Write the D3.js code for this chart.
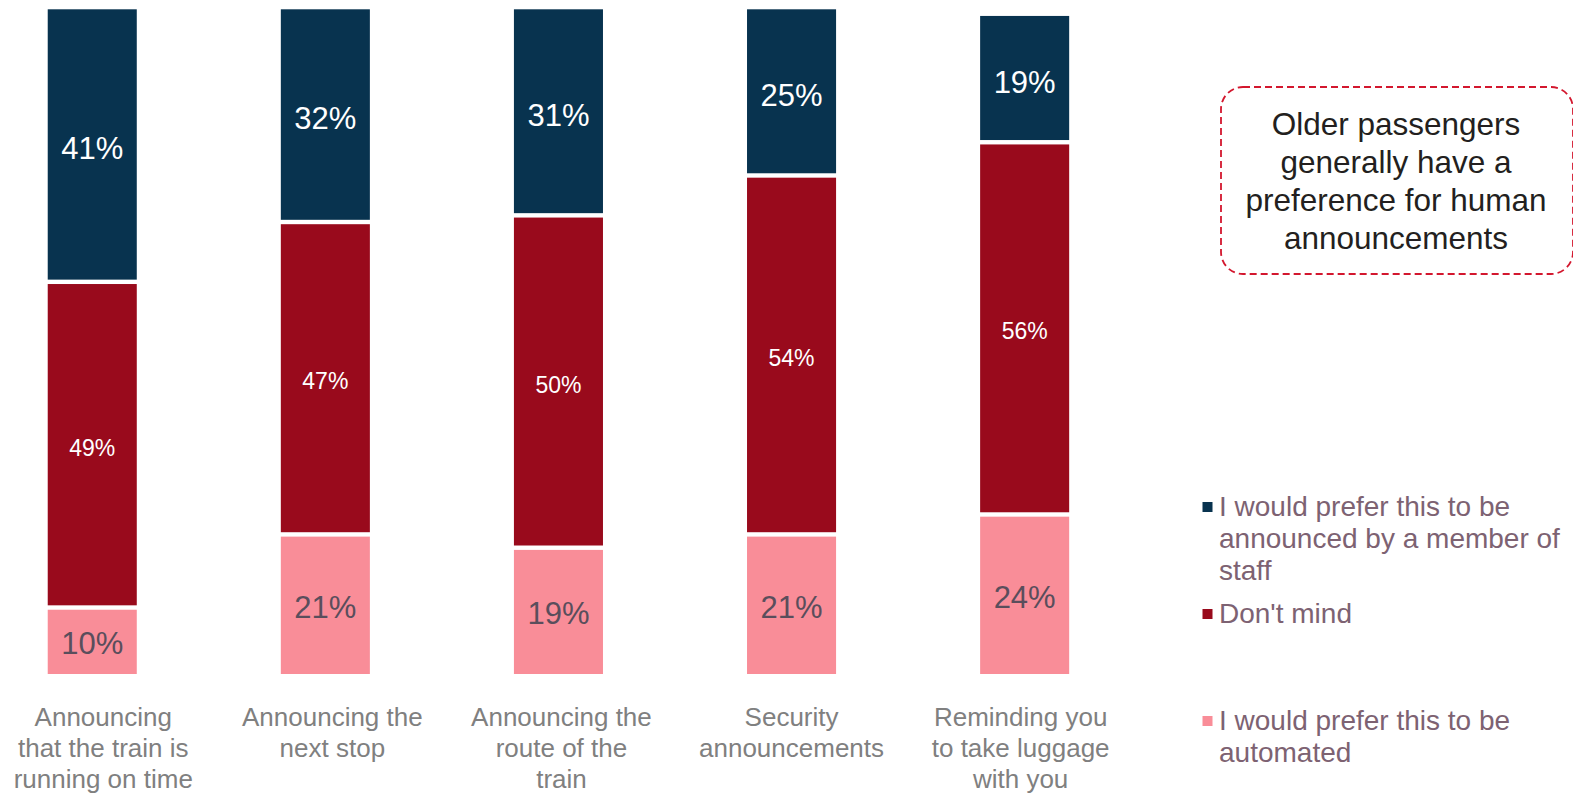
<!DOCTYPE html>
<html>
<head>
<meta charset="utf-8">
<script src="https://cdn.jsdelivr.net/npm/d3@7"></script>
<style>
  html, body { margin: 0; padding: 0; background: #fff; }
  svg { display: block; font-family: "Liberation Sans", Arial, sans-serif; }
</style>
</head>
<body>
<svg id="chart" width="1573" height="793"></svg>
<script>
// ---- data ----
const categories = [
  "Announcing that the train is running on time",
  "Announcing the next stop",
  "Announcing the route of the train",
  "Security announcements",
  "Reminding you to take luggage with you"
];
const categoryLines = [
  ["Announcing", "that the train is", "running on time"],
  ["Announcing the", "next stop"],
  ["Announcing the", "route of the", "train"],
  ["Security", "announcements"],
  ["Reminding you", "to take luggage", "with you"]
];
const automated = [10, 21, 19, 21, 24];
const dontMind  = [49, 47, 50, 54, 56];
const staff     = [41, 32, 31, 25, 19];

const seriesKeys = ["automated", "dontMind", "staff"];
const seriesColors = { automated: "#f98d98", dontMind: "#990a1c", staff: "#08334f" };
const labelColors  = { automated: "#5a4e5c", dontMind: "#ffffff", staff: "#ffffff" };
const labelSizes   = { automated: 31, dontMind: 23, staff: 31 };

const legendItems = [
  { key: "staff",     lines: ["I would prefer this to be", "announced by a member of", "staff"] },
  { key: "dontMind",  lines: ["Don't mind"] },
  { key: "automated", lines: ["I would prefer this to be", "automated"] }
];
const noteLines = ["Older passengers", "generally have a", "preference for human", "announcements"];

// ---- layout ----
const svg = d3.select("#chart");
const catLabelDx = [11, 7, 3, 0, -4];

const x = d3.scaleBand().domain(categories)
  .range([-24.3, 1141.2]).paddingInner(0.618).paddingOuter(0.309);
const y = d3.scaleLinear().domain([0, 100]).range([674, 9.3]);

const table = categories.map((c, i) => ({
  category: c, automated: automated[i], dontMind: dontMind[i], staff: staff[i]
}));
const stacked = d3.stack().keys(seriesKeys)(table);

const gap = 2.2;
const layers = svg.append("g").selectAll("g").data(stacked).join("g")
  .attr("fill", s => seriesColors[s.key]);

layers.each(function(s, si) {
  const g = d3.select(this);
  const isBottom = si === 0, isTop = si === stacked.length - 1;
  g.selectAll("rect").data(s).join("rect")
    .attr("x", d => x(d.data.category))
    .attr("width", x.bandwidth())
    .attr("y", d => y(d[1]) + (isTop ? 0 : gap))
    .attr("height", d => (y(d[0]) - (isBottom ? 0 : gap)) - (y(d[1]) + (isTop ? 0 : gap)));
  g.selectAll("text").data(s).join("text")
    .attr("x", d => x(d.data.category) + x.bandwidth() / 2)
    .attr("y", d => (y(d[0]) + y(d[1])) / 2 + 3)
    .attr("text-anchor", "middle")
    .attr("dominant-baseline", "central")
    .attr("fill", labelColors[s.key])
    .attr("font-size", labelSizes[s.key])
    .text(d => (d[1] - d[0]) + "%");
});

// category labels
const catG = svg.append("g");
categories.forEach((c, i) => {
  const t = catG.append("text")
    .attr("text-anchor", "middle")
    .attr("fill", "#808080")
    .attr("font-size", 26);
  categoryLines[i].forEach((line, li) => {
    t.append("tspan")
      .attr("x", x(c) + x.bandwidth() / 2 + catLabelDx[i])
      .attr("y", 726 + li * 31)
      .text(line);
  });
});

// legend
const legendBaselines = [516, 623, 730];
const legendG = svg.append("g");
legendItems.forEach((item, i) => {
  const b = legendBaselines[i];
  legendG.append("rect")
    .attr("x", 1202.5).attr("y", b - 14)
    .attr("width", 10).attr("height", 10)
    .attr("fill", seriesColors[item.key]);
  const t = legendG.append("text")
    .attr("fill", "#7d6272")
    .attr("font-size", 28);
  item.lines.forEach((line, li) => {
    t.append("tspan").attr("x", 1219).attr("y", b + li * 32).text(line);
  });
});

// annotation box
svg.append("rect")
  .attr("x", 1221).attr("y", 87)
  .attr("width", 352).attr("height", 187)
  .attr("rx", 22).attr("ry", 22)
  .attr("fill", "none")
  .attr("stroke", "#d3172e")
  .attr("stroke-width", 1.8)
  .attr("stroke-dasharray", "7,4");
const note = svg.append("text")
  .attr("text-anchor", "middle")
  .attr("fill", "#231f20")
  .attr("font-size", 31.5);
noteLines.forEach((line, li) => {
  note.append("tspan").attr("x", 1396).attr("y", 135 + li * 38).text(line);
});
</script>
</body>
</html>
